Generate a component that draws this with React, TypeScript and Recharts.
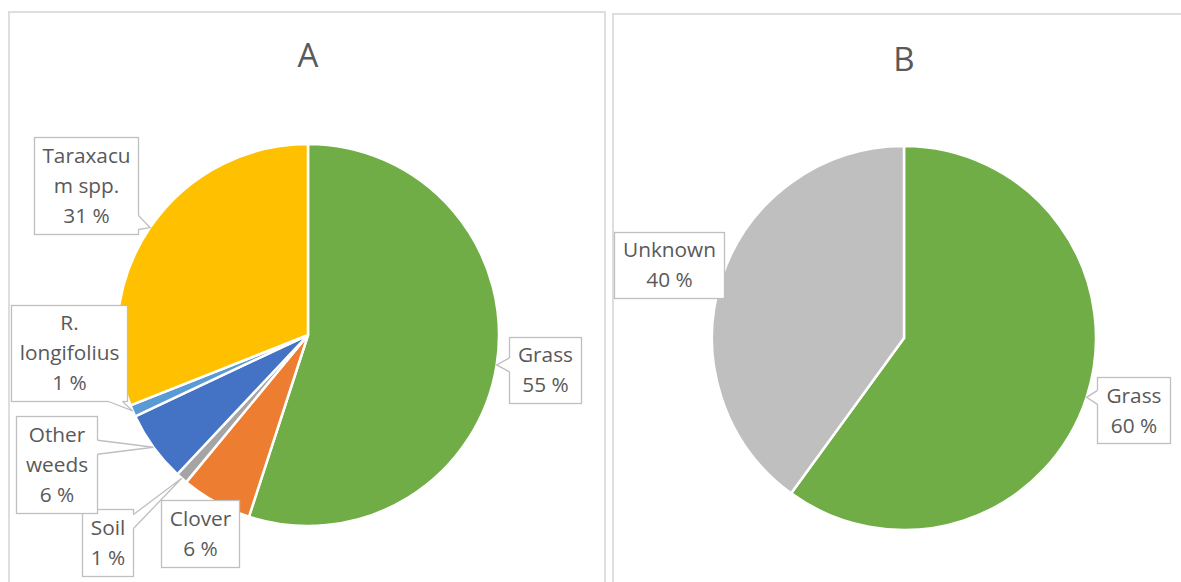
import React from 'react';
import { PieChart, Pie, Cell } from 'recharts';

// panel A: share of ground cover
const categoriesA = ['Grass', 'Clover', 'Soil', 'Other weeds', 'R. longifolius', 'Taraxacum spp.'];
const valuesA = [55, 6, 1, 6, 1, 31];
const colorsA = ['#70AD47', '#ED7D31', '#A5A5A5', '#4472C4', '#5B9BD5', '#FFC000'];

// panel B
const categoriesB = ['Grass', 'Unknown'];
const valuesB = [60, 40];
const colorsB = ['#70AD47', '#BFBFBF'];

// label boxes (wrapped text as in the original, box offset from the slice edge)
const labelLayoutA = [
  { lines: ['Grass'], dx: 48, dy: 5, w: 72, h: 66, side: 'left' },
  { lines: ['Clover'], dx: -16, dy: 31, w: 78, h: 67, side: 'none' },
  { lines: ['Soil'], dx: -74, dy: 64, w: 51, h: 67, side: 'right' },
  { lines: ['Other', 'weeds'], dx: -97, dy: 17, w: 81, h: 97, side: 'right' },
  { lines: ['R.', 'longifolius'], dx: -64, dy: -58, w: 116, h: 96, side: 'bottom' },
  { lines: ['Taraxacu', 'm spp.'], dx: -64, dy: -42, w: 104, h: 97, side: 'right' },
];
const labelLayoutB = [
  { lines: ['Grass'], dx: 47, dy: 13, w: 73, h: 66, side: 'left' },
  { lines: ['Unknown'], dx: -52, dy: -14, w: 110, h: 66, side: 'none' },
];

const RADIAN = Math.PI / 180;
const TEXT = '#595959';
const FONT = '"Open Sans", "Liberation Sans", sans-serif';
const NO_MARGIN = { top: 0, right: 0, bottom: 0, left: 0 };

const clamp = (v: number, lo: number, hi: number) => Math.max(lo, Math.min(hi, v));

const makeLabel = (layouts: any[]) => (props: any) => {
  const { cx, cy, midAngle, outerRadius, index, value } = props;
  const lay = layouts[index];
  const ax = cx + outerRadius * Math.cos(-midAngle * RADIAN);
  const ay = cy + outerRadius * Math.sin(-midAngle * RADIAN);
  const bx = ax + lay.dx;
  const by = ay + lay.dy;
  const left = Math.round(bx - lay.w / 2) + 0.5;
  const top = Math.round(by - lay.h / 2) + 0.5;
  const right = left + lay.w;
  const bottom = top + lay.h;
  const lines = [...lay.lines, `${value} %`];

  let wedge: number[][] | null = null;
  if (lay.side === 'left' || lay.side === 'right') {
    const ex = lay.side === 'left' ? left : right;
    const inset = lay.side === 'left' ? 1.5 : -1.5;
    const by0 = clamp(ay, top + 12, bottom - 12);
    wedge = [[ex + inset, by0 - 7], [ex, by0 - 7], [ax, ay], [ex, by0 + 7], [ex + inset, by0 + 7]];
  } else if (lay.side === 'bottom') {
    const bx0 = clamp(ax, left + 12, right - 12);
    wedge = [[bx0 - 7, bottom - 1.5], [bx0 - 7, bottom], [ax, ay], [bx0 + 7, bottom], [bx0 + 7, bottom - 1.5]];
  }

  return (
    <g key={`lbl-${index}`}>
      <rect x={left} y={top} width={lay.w} height={lay.h} fill="#fff" stroke="#BFBFBF" strokeWidth={1.3} />
      {wedge && (
        <>
          <polygon points={wedge.map(p => p.join(',')).join(' ')} fill="#fff" stroke="none" />
          <polyline points={wedge.slice(1, 4).map(p => p.join(',')).join(' ')} fill="none" stroke="#BFBFBF" strokeWidth={1.3} />
        </>
      )}
      {lines.map((t, i) => (
        <text
          key={i}
          x={(left + right) / 2}
          y={by + (i - (lines.length - 1) / 2) * 30 + 7.5}
          textAnchor="middle"
          fill={TEXT}
          fontFamily={FONT}
          fontSize={20.8}
        >
          {t}
        </text>
      ))}
    </g>
  );
};

const dataA = categoriesA.map((name, i) => ({ name, value: valuesA[i] }));
const dataB = categoriesB.map((name, i) => ({ name, value: valuesB[i] }));

const panelBorder = '2px solid #DEDEDE';

export default function App() {
  return (
    <div style={{ position: 'absolute', left: 0, top: 0, width: 1181, height: 582, overflow: 'hidden', background: '#fff' }}>
      <div style={{ position: 'absolute', left: 8, top: 11, width: 594, height: 620, border: panelBorder }} />
      <div style={{ position: 'absolute', left: 612, top: 13, width: 620, height: 620, border: panelBorder }} />

      <div style={{ position: 'absolute', left: 258, top: 38, width: 100, textAlign: 'center', fontFamily: FONT, fontSize: 33, lineHeight: 1, color: TEXT }}>A</div>
      <div style={{ position: 'absolute', left: 854, top: 42, width: 100, textAlign: 'center', fontFamily: FONT, fontSize: 33, lineHeight: 1, color: TEXT }}>B</div>

      <div style={{ position: 'absolute', left: 0, top: 0 }}>
        <PieChart width={610} height={582} margin={NO_MARGIN}>
          <Pie
            data={dataA}
            dataKey="value"
            nameKey="name"
            cx={308}
            cy={335}
            outerRadius={191}
            startAngle={90}
            endAngle={-270}
            stroke="#fff"
            strokeWidth={2.5}
            labelLine={false}
            label={makeLabel(labelLayoutA)}
            isAnimationActive={false}
          >
            {dataA.map((d, i) => <Cell key={d.name} fill={colorsA[i]} />)}
          </Pie>
        </PieChart>
      </div>

      <div style={{ position: 'absolute', left: 610, top: 0 }}>
        <PieChart width={571} height={582} margin={NO_MARGIN}>
          <Pie
            data={dataB}
            dataKey="value"
            nameKey="name"
            cx={294}
            cy={338}
            outerRadius={192}
            startAngle={90}
            endAngle={-270}
            stroke="#fff"
            strokeWidth={2.5}
            labelLine={false}
            label={makeLabel(labelLayoutB)}
            isAnimationActive={false}
          >
            {dataB.map((d, i) => <Cell key={d.name} fill={colorsB[i]} />)}
          </Pie>
        </PieChart>
      </div>
    </div>
  );
}
